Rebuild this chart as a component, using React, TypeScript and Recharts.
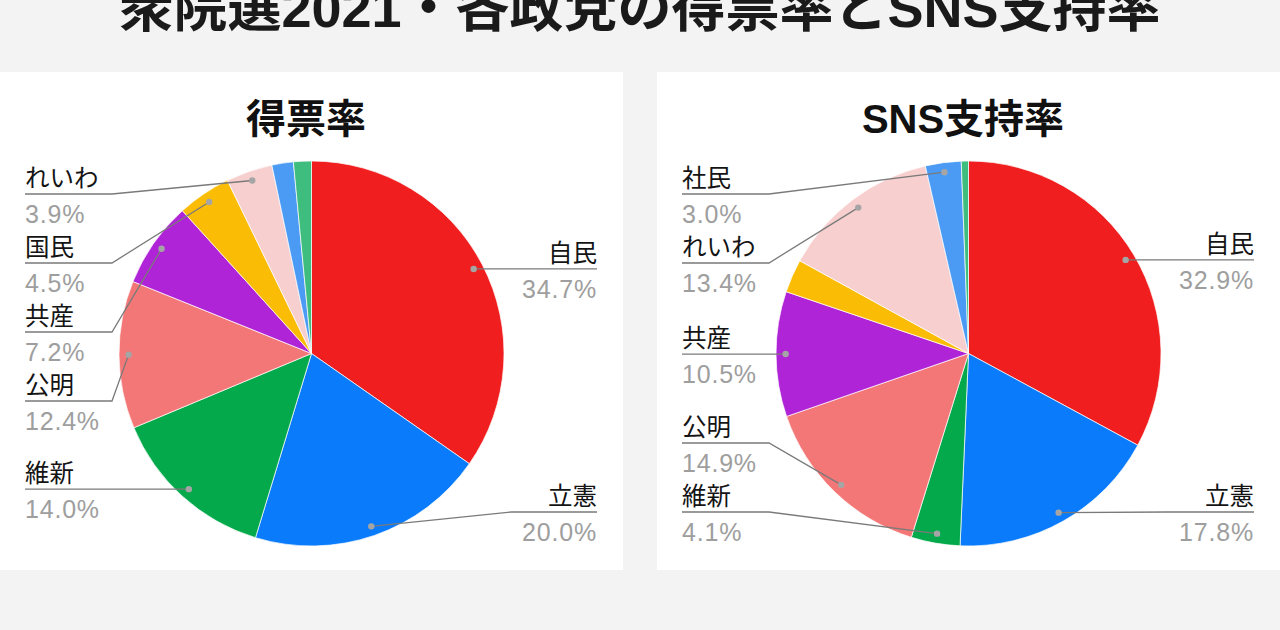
import React from "react";
import { PieChart, Pie, Cell } from "recharts";

const MAIN_TITLE = "衆院選2021・各政党の得票率とSNS支持率";
const PANEL_TITLES = ["得票率", "SNS支持率"];

const PARTIES = ["自民", "立憲", "維新", "公明", "共産", "国民", "れいわ", "社民", "その他"];
const VOTE_SHARE = [34.7, 20.0, 14.0, 12.4, 7.2, 4.5, 3.9, 1.8, 1.5];
const SNS_SHARE = [32.9, 17.8, 4.1, 14.9, 10.5, 2.8, 13.4, 3.0, 0.6];

const PARTY_COLORS = [
  "#f01e1e",
  "#0a7bfa",
  "#04a94c",
  "#f47777",
  "#b024d7",
  "#fbbc05",
  "#f8cfcf",
  "#4b9bf5",
  "#3ebd7e",
];

// smallest share that gets a label
const LABEL_MIN = 3;

const PANEL_W = 623;
const PANEL_H = 498;
const CX = 311.5;
const CY = 281.5;
const RADIUS = 192.5;
const DOT_RATIO = 0.95;
const ROW_GAP = 69;
const ROW_TOP = 122;
const ROW_BOTTOM = 440;

const FONT = "'Liberation Sans', 'Noto Sans CJK JP', sans-serif";

// spread labels on each side so they don't overlap (like the Sheets layout)
function layoutRows(values: number[]) {
  const total = values.reduce((a, b) => a + b, 0);
  let acc = 0;
  const items = values.map((v, i) => {
    const mid = 90 - ((acc + v / 2) / total) * 360;
    acc += v;
    const rad = (-mid * Math.PI) / 180;
    return {
      i,
      right: Math.cos(rad) >= 0,
      ideal: CY + RADIUS * DOT_RATIO * Math.sin(rad),
      show: v >= LABEL_MIN,
    };
  });
  const rows: Record<number, number> = {};
  [true, false].forEach((side) => {
    const list = items
      .filter((it) => it.show && it.right === side)
      .sort((a, b) => a.ideal - b.ideal);
    let prev = -Infinity;
    list.forEach((it) => {
      const y = Math.max(it.ideal, prev + ROW_GAP, ROW_TOP);
      rows[it.i] = y;
      prev = y;
    });
    let next = Infinity;
    for (let k = list.length - 1; k >= 0; k--) {
      const y = Math.min(rows[list[k].i], next - ROW_GAP, ROW_BOTTOM);
      rows[list[k].i] = y;
      next = y;
    }
  });
  return rows;
}

function SharePie({ title, values }: { title: string; values: number[] }) {
  const data = PARTIES.map((name, i) => ({ name, value: values[i] }));
  const rows = layoutRows(values);

  const renderLabel = (p: any) => {
    const i = p.index ?? PARTIES.indexOf(p.name);
    if (values[i] < LABEL_MIN) return null;
    const rad = (-p.midAngle * Math.PI) / 180;
    const dotX = p.cx + p.outerRadius * DOT_RATIO * Math.cos(rad);
    const dotY = p.cy + p.outerRadius * DOT_RATIO * Math.sin(rad);
    const right = Math.cos(rad) >= 0;
    const y = rows[i];
    const elbowX = right ? p.cx + p.outerRadius + 7 : p.cx - p.outerRadius - 7;
    const edgeX = right ? PANEL_W - 26 : 25;
    const anchor = right ? "end" : "start";
    return (
      <g key={`label-${i}`}>
        <polyline
          points={`${dotX},${dotY} ${elbowX},${y} ${edgeX},${y}`}
          fill="none"
          stroke="#7a7a7a"
          strokeWidth={1.3}
        />
        <circle cx={dotX} cy={dotY} r={3.2} fill="#a5a5a5" />
        <text x={edgeX} y={y - 7} textAnchor={anchor} fontSize={24.5} fill="#141414" fontFamily={FONT}>
          {p.name}
        </text>
        <text
          x={edgeX}
          y={y + 29}
          textAnchor={anchor}
          fontSize={25}
          letterSpacing={0.8}
          fill="#9e9e9e"
          fontFamily={FONT}
        >
          {`${(p.percent * 100).toFixed(1)}%`}
        </text>
      </g>
    );
  };

  return (
    <div style={{ position: "relative", width: PANEL_W, height: PANEL_H, background: "#ffffff" }}>
      <svg
        width={PANEL_W}
        height={80}
        style={{ position: "absolute", left: 0, top: 0, pointerEvents: "none" }}
      >
        <text x={306} y={61} textAnchor="middle" fontSize={40} fontWeight={700} fill="#111" fontFamily={FONT}>
          {title}
        </text>
      </svg>
      <PieChart
        width={PANEL_W}
        height={PANEL_H}
        margin={{ top: 0, right: 0, bottom: 0, left: 0 }}
        style={{ position: "absolute", left: 0, top: 0 }}
      >
        <Pie
          data={data}
          dataKey="value"
          nameKey="name"
          cx={CX}
          cy={CY}
          outerRadius={RADIUS}
          startAngle={90}
          endAngle={-270}
          stroke="#ffffff"
          strokeWidth={0.7}
          labelLine={false}
          label={renderLabel}
          isAnimationActive={false}
        >
          {data.map((entry, index) => (
            <Cell key={`cell-${index}`} fill={PARTY_COLORS[index]} />
          ))}
        </Pie>
      </PieChart>
    </div>
  );
}

export default function App() {
  return (
    <div
      style={{
        position: "relative",
        width: 1280,
        height: 630,
        background: "#f3f3f3",
        overflow: "hidden",
        fontFamily: FONT,
      }}
    >
      <style>{"body{margin:0}"}</style>
      <svg width={1280} height={72} style={{ position: "absolute", left: 0, top: 0 }}>
        <text x={640} y={27} textAnchor="middle" fontSize={54} fontWeight={700} fill="#1a1a1a" fontFamily={FONT}>
          {MAIN_TITLE}
        </text>
      </svg>
      <div style={{ position: "absolute", left: 0, top: 72 }}>
        <SharePie title={PANEL_TITLES[0]} values={VOTE_SHARE} />
      </div>
      <div style={{ position: "absolute", left: 657, top: 72 }}>
        <SharePie title={PANEL_TITLES[1]} values={SNS_SHARE} />
      </div>
    </div>
  );
}
